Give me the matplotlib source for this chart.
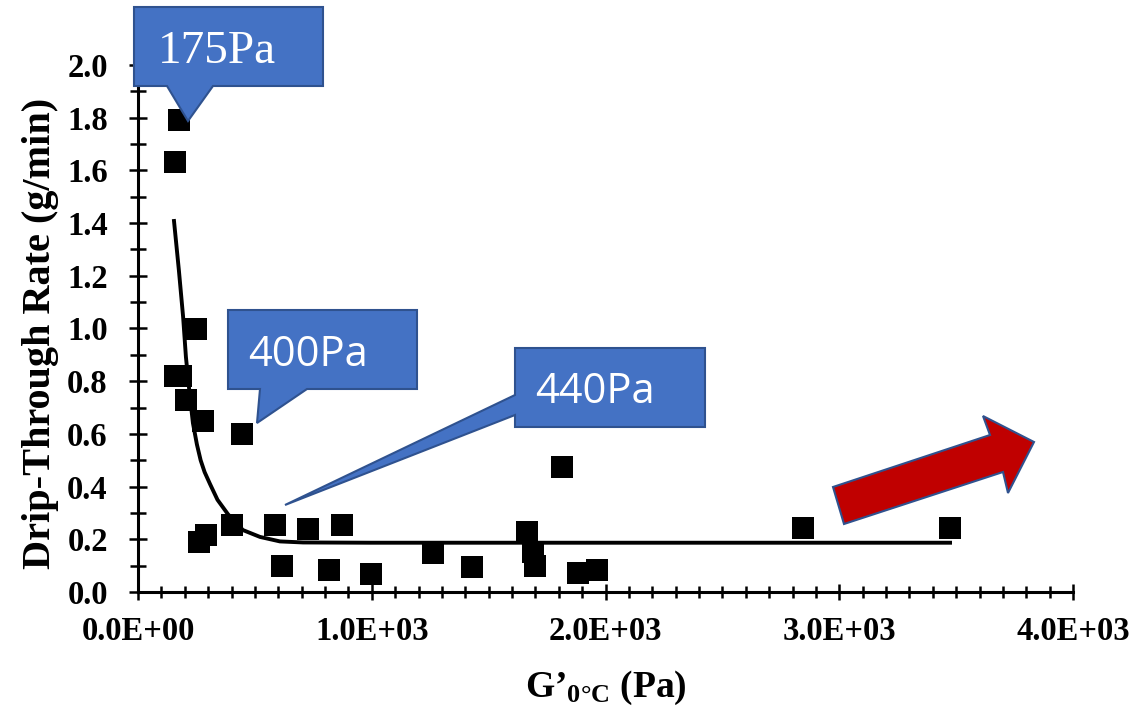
import numpy as np
import matplotlib
matplotlib.use("Agg")
import matplotlib.pyplot as plt
from matplotlib.patches import Polygon
from matplotlib.ticker import MultipleLocator, FuncFormatter
from matplotlib.font_manager import FontProperties

plt.rcParams['font.family'] = ['Liberation Serif', 'DejaVu Serif']
plt.rcParams['mathtext.fontset'] = 'custom'
plt.rcParams['mathtext.rm'] = 'Liberation Serif:bold'
plt.rcParams['mathtext.bf'] = 'Liberation Serif:bold'
plt.rcParams['mathtext.it'] = 'Liberation Serif:bold'

# ---- data ----
g_prime = [175, 158, 248, 160, 185, 205, 276, 447, 259, 289, 404, 584, 729, 871,
           618, 817, 995, 1262, 1428, 1663, 1690, 1700, 1813, 1881, 1964, 2843, 3474]
rate = [1.79, 1.63, 1.00, 0.82, 0.82, 0.73, 0.65, 0.60, 0.19, 0.215, 0.255, 0.255, 0.24, 0.255,
        0.10, 0.085, 0.07, 0.148, 0.096, 0.228, 0.15, 0.097, 0.474, 0.072, 0.083, 0.243, 0.243]

fit_x = [154, 175, 193, 205, 220, 235, 252, 268, 285, 308, 340, 385, 449, 522, 607, 706, 993, 3474]
fit_y = [1.408, 1.22, 1.044, 0.892, 0.76, 0.641, 0.56, 0.50, 0.455, 0.41, 0.35, 0.295, 0.235, 0.209, 0.192, 0.188, 0.187, 0.187]

callout_labels = ["175Pa", "400Pa", "440Pa"]

W, H = 1138, 707
fig = plt.figure(figsize=(W / 100, H / 100), dpi=100)
ax = fig.add_axes([138 / W, 1 - 592 / H, 935 / W, 527 / H])

ax.plot(fit_x, fit_y, color='black', lw=2.8, zorder=2, solid_joinstyle='round')
ax.plot(g_prime, rate, linestyle='none', marker='s', markersize=16.5,
        color='black', markeredgewidth=0, zorder=3)

ax.set_xlim(0, 4000)
ax.set_ylim(0, 2.0)
ax.xaxis.set_major_locator(MultipleLocator(1000))
ax.xaxis.set_minor_locator(MultipleLocator(100))
ax.yaxis.set_major_locator(MultipleLocator(0.2))
ax.yaxis.set_minor_locator(MultipleLocator(0.1))
ax.xaxis.set_major_formatter(FuncFormatter(lambda v, p: "%.1E" % v))
ax.yaxis.set_major_formatter(FuncFormatter(lambda v, p: "%.1f" % v))

for s in ['top', 'right']:
    ax.spines[s].set_visible(False)
for s in ['left', 'bottom']:
    ax.spines[s].set_linewidth(2.2)

ax.tick_params(axis='both', which='both', direction='inout', width=1.8)
ax.tick_params(axis='y', which='major', length=13.5, pad=15, labelsize=23.5)
ax.tick_params(axis='y', which='minor', length=11.5)
ax.tick_params(axis='x', which='major', length=11, pad=12, labelsize=23.5)
ax.tick_params(axis='x', which='minor', length=8.5)
for lab in ax.get_xticklabels() + ax.get_yticklabels():
    lab.set_fontweight('bold')

ax.set_ylabel("Drip-Through Rate (g/min)", fontsize=29, fontweight='bold',
              ha='center', va='center')
ax.yaxis.set_label_coords((41 - 138) / 935, (592 - 333) / 527)
ax.set_xlabel("G’$_{\\mathrm{0°C}}$ (Pa)", fontsize=27, fontweight='bold',
              ha='center', va='center')
ax.xaxis.set_label_coords(0.5, (592 - 688) / 527)


def P(px, py):
    return (px / W, 1 - py / H)


box_fc, box_ec = '#4472C4', '#2F528F'
shapes = [
    [(134, 7), (323, 7), (323, 86), (213, 86), (188, 121), (167, 86), (134, 86)],
    [(228, 310), (417, 310), (417, 389), (307, 389), (257, 423), (260, 389), (228, 389)],
    [(515, 348), (705, 348), (705, 427), (515, 427), (515, 415), (285, 505), (515, 395)],
]
for pts in shapes:
    fig.add_artist(Polygon([P(*p) for p in pts], closed=True, transform=fig.transFigure,
                           facecolor=box_fc, edgecolor=box_ec, lw=1.5, zorder=10))

serif_fp = FontProperties(family=['Liberation Serif', 'DejaVu Serif'], size=34)
sans_fp = FontProperties(family='Open Sans', size=30)
fig.text(*P(158, 63), callout_labels[0], color='white', fontproperties=serif_fp,
         ha='left', va='baseline', zorder=11)
fig.text(*P(248, 366), callout_labels[1], color='white', fontproperties=sans_fp,
         ha='left', va='baseline', zorder=11)
fig.text(*P(535, 403), callout_labels[2], color='white', fontproperties=sans_fp,
         ha='left', va='baseline', zorder=11)

arrow_pts = [(833, 487), (990, 435), (983, 416), (1034, 442), (1008, 493), (1003, 472), (844, 524)]
fig.add_artist(Polygon([P(*p) for p in arrow_pts], closed=True, transform=fig.transFigure,
                       facecolor='#C00000', edgecolor='#2F528F', lw=1.5, zorder=10))

fig.savefig("out.png", dpi=100)
